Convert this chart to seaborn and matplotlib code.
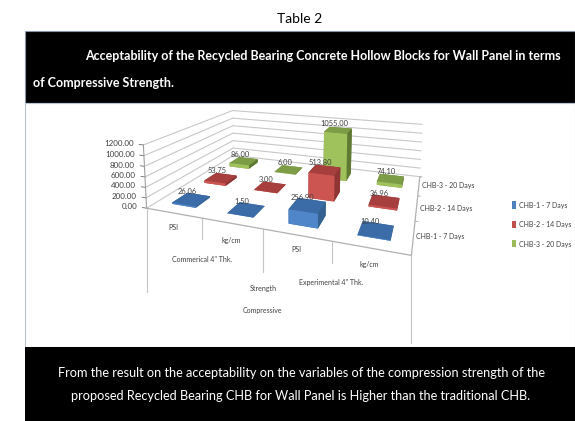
import numpy as np
import matplotlib
matplotlib.use("Agg")
import matplotlib.pyplot as plt
from matplotlib.patches import Rectangle
import seaborn as sns

sns.set_theme(style="white")
plt.rcParams['font.family'] = ['Lato', 'DejaVu Sans']

series = ["CHB-1 - 7 Days", "CHB-2 - 14 Days", "CHB-3 - 20 Days"]
chb1 = [26.06, 1.50, 256.90, 10.40]
chb2 = [53.75, 3.00, 513.80, 36.96]
chb3 = [86.00, 6.00, 1055.00, 74.10]
z_ticks = [0, 200, 400, 600, 800, 1000, 1200]
colors = ["#4F81BD", "#C0504D", "#9BBB59"]
# Face shades per series: top, front, side
shades = [("#3b6ca8", "#4f86c9", "#34618f"),
          ("#a63f3d", "#cc5552", "#8f3533"),
          ("#7c9c45", "#9fc25c", "#5f7a33")]
W, H = 575, 421
TXT = "#404040"
GRID = "#c8c8c8"

fig = plt.figure(figsize=(W / 100, H / 100), dpi=100, facecolor="white")


def box(x0, y0, x1, y1, **kw):
    fig.add_artist(Rectangle((x0 / W, 1 - y1 / H), (x1 - x0) / W, (y1 - y0) / H,
                             transform=fig.transFigure, **kw))


def label(x, y, s, **kw):
    fig.text(x / W, 1 - y / H, s, ha=kw.pop("ha", "center"), va="center", **kw)


box(25, 31, 575, 103, fc="black", ec="#8a97a8", lw=0.8, zorder=0)
box(25, 103, 575, 347, fc="white", ec="#b8c2d0", lw=0.8, zorder=0)
box(25, 347, 575, 421, fc="black", ec="none", zorder=0)

label(300, 19, "Table 2", fontsize=10, color="black")
label(85, 56, "Acceptability of the Recycled Bearing Concrete Hollow Blocks for Wall Panel in terms",
      ha="left", fontsize=9, color="white", fontweight="bold")
label(33, 83, "of Compressive Strength.", ha="left", fontsize=9, color="white", fontweight="bold")
label(301, 373, "From the result on the acceptability on the variables of the compression strength of the",
      fontsize=9.2, color="white")
label(301, 396, "proposed Recycled Bearing CHB for Wall Panel is Higher than the traditional CHB.",
      fontsize=9.2, color="white")

ax = fig.add_axes([0, 0, 1, 1], projection="3d", facecolor="none")
ax.set_zorder(5)
ax.set_axis_off()

# Oblique camera solved from where the chart's box corners should fall on the canvas
world = np.array([(0, 0, 0), (1, 0, 0), (2, 0, 0), (3, 0, 0), (4, 0, 0), (4, 3, 0), (0, 3, 0),
                  (0, 0, 1.2), (0, 3, 1.2), (4, 3, 1.2)], float)
canvas = np.array([(147, 208), (202, 218), (263, 229), (332, 242), (412, 255), (420, 176), (233, 156),
                   (143, 145), (233, 110), (422, 125)], float)
rows = []
for (a, b, c), (u, v) in zip(world, canvas):
    rows.append([a, b, c, 1, 0, 0, 0, 0, -u * a, -u * b, -u * c, -u])
    rows.append([0, 0, 0, 0, a, b, c, 1, -v * a, -v * b, -v * c, -v])
P = np.linalg.svd(np.array(rows))[2][-1].reshape(3, 4)
P[:, 2] /= 1000.0
P /= P[2] @ np.array([2, 1.5, 0, 1])


def oblique_proj():
    flip = np.array([[1, 0, 0], [0, -1, H], [0, 0, 1.0]])
    A = ax.transData.inverted().get_matrix() @ flip @ P
    # Depth stays negative so nothing in the scene counts as behind the camera
    depth = np.array([-0.25, 1 / 3, -1e-5, 0.0]) - 5 * A[2]
    return np.vstack([A[0], A[1], depth, A[2]])


ax.get_proj = oblique_proj


def to_canvas(x, y, z):
    u, v, w = P @ np.array([x, y, z, 1.0])
    return u / w, v / w


table = [chb1, chb2, chb3]
bw, bd = 0.44, 0.44
for j, vals in enumerate(table):
    top, front, side = shades[j]
    for i, v in enumerate(vals):
        ax.bar3d(i + 0.5 - bw / 2, j + 0.5 - bd / 2, 0, bw, bd, v,
                 color=[top, top, front, side, side, side], shade=False,
                 edgecolor="none", linewidth=0)
        u, vp = to_canvas(i + 0.42, j + 0.5, v + 70)
        label(u, vp - 3.5, f"{v:.2f}", fontsize=5.4, color=TXT, zorder=10)

# Wall gridlines, floor edges and tick marks
for t in z_ticks:
    ax.plot([0, 0], [0, 3], [t, t], color=GRID, lw=0.8, zorder=1)
    ax.plot([0, 4], [3, 3], [t, t], color=GRID, lw=0.8, zorder=1)
    ax.plot([0, -0.08], [0, 0], [t, t], color="#808080", lw=0.7, zorder=1)
    u, vp = to_canvas(-0.18, 0, t)
    label(u, vp, f"{t:.2f}", ha="right", fontsize=5.8, color=TXT, zorder=10)
ax.plot([0, 0], [0, 0], [0, 1200], color="#a0a0a0", lw=0.8, zorder=1)
ax.plot([0, 4, 4], [0, 0, 3], [0, 0, 0], color="#b0b0b0", lw=0.9, zorder=1)
for yt in (1, 2, 3):
    ax.plot([4, 4.04], [yt, yt], [0, 0], color="#b0b0b0", lw=0.7, zorder=1)

ax.set_xlim(0, 4)
ax.set_ylim(0, 3)
ax.set_zlim(0, 1200)

for (x, y, s) in [(440, 237, series[0]), (446, 208, series[1]), (448, 186, series[2])]:
    label(x, y, s, fontsize=5, color=TXT)

# Legend entries down the right-hand side
for k, (name, c) in enumerate(zip(series, colors)):
    y = 205 + k * 19.5
    box(512, y - 3.5, 516, y + 3.5, fc=c, ec="none")
    label(519, y, name, ha="left", fontsize=5, color=TXT)

# Multi-level category labels under the front edge
for (x, y, s) in [(173, 228, "PSI"), (231, 240, "kg/cm"), (296, 250, "PSI"), (369, 264, "kg/cm"),
                  (202, 259, "Commerical 4\" Thk."), (331, 283, "Experimental 4\" Thk."),
                  (263, 288, "Strength"), (262, 310, "Compressive")]:
    label(x, y, s, fontsize=5, color=TXT)
for (x, y0, y1) in [(147, 208, 292), (202, 218, 239), (263, 229, 272), (332, 242, 263), (411, 255, 343)]:
    fig.add_artist(plt.Line2D([x / W] * 2, [1 - y0 / H, 1 - y1 / H], color="#c4c4c4", lw=0.8))

fig.savefig("out.png", dpi=100)
